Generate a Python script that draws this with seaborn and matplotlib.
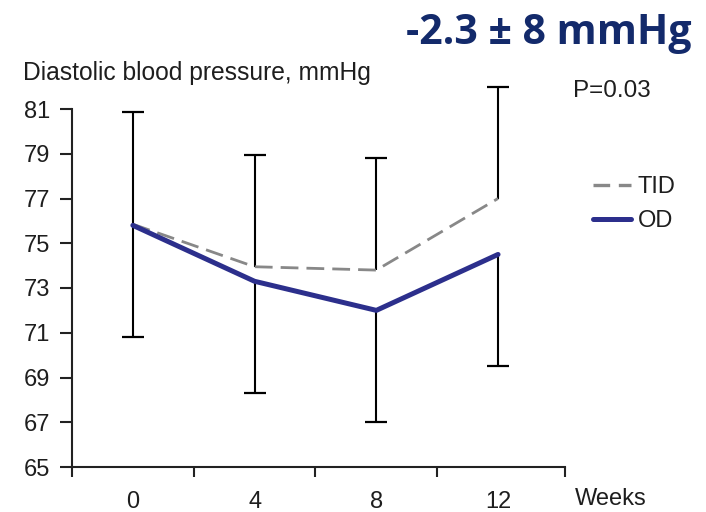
import matplotlib
matplotlib.use("Agg")
import matplotlib.pyplot as plt
from matplotlib.lines import Line2D
import numpy as np
import pandas as pd
import seaborn as sns

# Diastolic blood pressure by week for the two dosing regimens
weeks = [0, 4, 8, 12]
tid_values = [75.85, 73.95, 73.8, 77.0]
od_values = [75.8, 73.3, 72.0, 74.5]
sd_values = [5.0, 5.0, 5.0, 5.0]
y_ticks = [65, 67, 69, 71, 73, 75, 77, 79, 81]
x_labels = ["0", "4", "8", "12"]
headline = "-2.3 \u00b1 8 mmHg"
p_text = "P=0.03"

sns.set_theme(style="ticks")
plt.rcParams["font.family"] = ["Liberation Sans", "DejaVu Sans"]

tid_color = "#888888"
od_color = "#2c2f8c"
ink = "#1e1e1e"
axis_ink = "#222222"
tid_dash = (0, (6.4, 2.9))
fs = 17

df = pd.DataFrame({
    "week": weeks * 2,
    "dbp": tid_values + od_values,
    "regimen": ["TID"] * 4 + ["OD"] * 4,
})

fig = plt.figure(figsize=(7.06, 5.12), dpi=100)
ax = fig.add_axes([72 / 706, 1 - 467 / 512, (565 - 72) / 706, (467 - 109) / 512])

sns.lineplot(data=df[df.regimen == "TID"], x="week", y="dbp", ax=ax,
             color=tid_color, lw=2.0, legend=False, linestyle=tid_dash, zorder=3)
sns.lineplot(data=df[df.regimen == "OD"], x="week", y="dbp", ax=ax,
             color=od_color, lw=3.6, legend=False, zorder=4)

# upper whisker rises from the TID mean, lower whisker drops from the OD mean
tid = np.array(tid_values)
od = np.array(od_values)
sd = np.array(sd_values)
ax.errorbar(weeks, tid, yerr=[np.zeros(4), sd], fmt="none", ecolor="black",
            elinewidth=1.5, capsize=0, zorder=2)
ax.errorbar(weeks, od, yerr=[sd, np.zeros(4)], fmt="none", ecolor="black",
            elinewidth=1.5, capsize=0, zorder=2)
ax.plot(weeks, tid + sd, ls="none", marker="_", ms=16, mew=1.6, color="black", zorder=2)
ax.plot(weeks, od - sd, ls="none", marker="_", ms=16, mew=1.6, color="black", zorder=2)

ax.set_xlim(-2, 14.2)
ax.set_ylim(65, 81)
ax.set_yticks(y_ticks)
ax.set_yticklabels([str(v) for v in y_ticks])
ax.set_xticks(weeks)
ax.set_xticklabels(x_labels)
ax.set_xticks([-2, 2, 6, 10, 14.2], minor=True)
ax.tick_params(axis="x", which="major", length=0, pad=17.5, labelsize=fs, labelcolor=ink)
ax.tick_params(axis="x", which="minor", length=7.5, width=1.5, color=axis_ink, direction="out")
ax.tick_params(axis="y", which="major", length=8.6, width=1.5, color=axis_ink,
               pad=7, labelsize=fs, labelcolor=ink)
ax.set_xlabel("")
ax.set_ylabel("")
for side in ("top", "right"):
    ax.spines[side].set_visible(False)
for side in ("left", "bottom"):
    ax.spines[side].set_linewidth(1.5)
    ax.spines[side].set_color(axis_ink)
ax.set_facecolor("white")

for ln in ax.lines:
    ln.set_clip_on(False)
for coll in ax.collections:
    coll.set_clip_on(False)

fig.text(23 / 706, 1 - 80 / 512, "Diastolic blood pressure, mmHg", fontsize=17.7,
         color=ink, ha="left", va="baseline")
fig.text(573 / 706, 1 - 91 / 512, p_text, fontsize=17.5, color=ink,
         ha="left", va="center")
fig.text(575 / 706, 1 - 499 / 512, "Weeks", fontsize=fs, color=ink,
         ha="left", va="center")
fig.text(691 / 706, 1 - 44 / 512, headline, fontsize=29.5, fontweight="bold",
         color="#132a6b", ha="right", va="baseline", family=["Open Sans", "DejaVu Sans"])

handles = [
    Line2D([], [], color=tid_color, lw=2.4, linestyle=(0, (5.0, 2.6))),
    Line2D([], [], color=od_color, lw=3.6),
]
fig.legend(handles, ["TID", "OD"], loc="center left",
           bbox_to_anchor=(593 / 706, 1 - 204 / 512), frameon=False,
           fontsize=fs, handlelength=1.6, handletextpad=0.3, labelspacing=0.5,
           borderpad=0, borderaxespad=0, labelcolor=ink)

fig.savefig("out.png", dpi=100, facecolor="white")
